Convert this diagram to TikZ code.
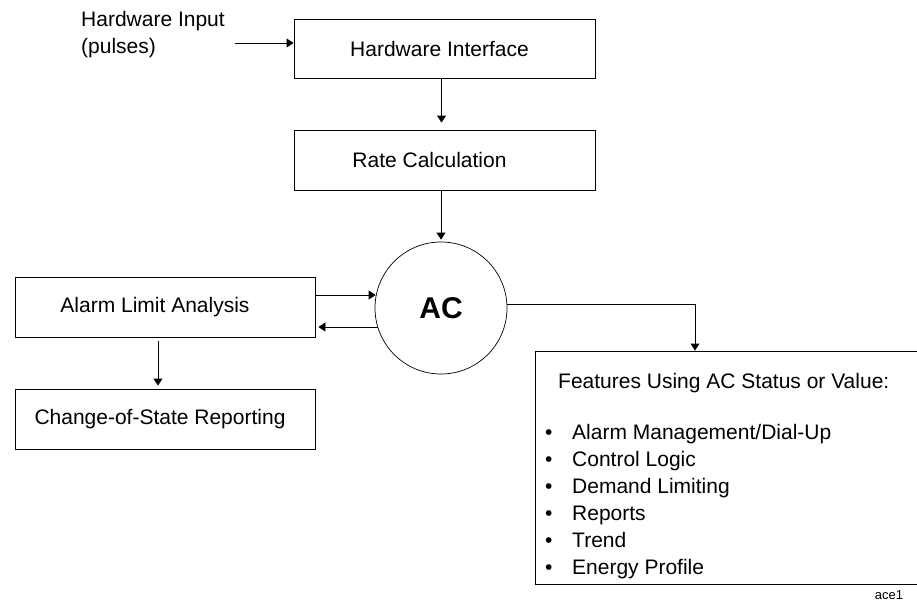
\documentclass[tikz,border=0pt]{standalone}
\usepackage{fontspec}
\setmainfont{Liberation Sans}
\usetikzlibrary{arrows.meta}

\begin{document}
\begin{tikzpicture}[x=1pt, y=-1pt,
    box/.style={draw, line width=0.9pt, inner sep=0pt, align=center,
                font=\fontsize{21}{27}\selectfont},
    txt/.style={inner sep=0pt, align=left, font=\fontsize{21}{27}\selectfont},
    arr/.style={-{Triangle[width=9pt,length=7pt]}, line width=0.9pt}]
    \useasboundingbox (0,0) rectangle (917,602);
    \node[txt, anchor=west] (hwin) at (81,35) {Hardware Input\\(pulses)};
    \coordinate (inp) at (235,43);
    \node[box, minimum width=301pt, minimum height=59pt] (hi) at (444.5,48.5) {Hardware Interface\hspace*{10pt}};
    \node[box, minimum width=301pt, minimum height=60pt] (rc) at (444.5,160) {Rate Calculation\hspace*{30pt}};
    \node[draw, circle, line width=0.7pt, minimum size=132pt, inner sep=0pt,
          font=\fontsize{30}{30}\selectfont\bfseries] (ac) at (441,308) {AC};
    \node[box, minimum width=300pt, minimum height=60pt] (al) at (165,307) {Alarm Limit Analysis\hspace*{20pt}};
    \node[box, minimum width=300pt, minimum height=60pt] (cs) at (165,419) {Change-of-State Reporting\hspace*{10pt}};
    \node[box, minimum width=382pt, minimum height=233pt] (fe) at (726,467.5) {};
    \node[txt, anchor=west] (fehead) at (558,383) {Features Using AC Status or Value:};
    \node[txt, anchor=north west] (felist) at (545,424)
      {\makebox[27pt][l]{\textbullet}Alarm Management/Dial-Up\\
       \makebox[27pt][l]{\textbullet}Control Logic\\
       \makebox[27pt][l]{\textbullet}Demand Limiting\\
       \makebox[27pt][l]{\textbullet}Reports\\
       \makebox[27pt][l]{\textbullet}Trend\\
       \makebox[27pt][l]{\textbullet}Energy Profile};
    \node[inner sep=0pt, font=\fontsize{13}{13}\selectfont] (tag) at (889,595) {ace1};
    \draw[arr] (inp) -- (inp -| hi.west);
    \draw[arr, shorten >=7pt] ([xshift=-3pt]hi.south) -- ([xshift=-3pt]rc.north);
    \draw[arr, shorten >=2pt] (rc.south -| ac.north) -- (ac.north);
    \draw[arr] ([yshift=12pt]al.east) -- ([yshift=12pt,xshift=1pt]al.east -| ac.west);
    \draw[arr] ([yshift=-20pt,xshift=3pt]al.east -| ac.west) -- ([yshift=-20pt,xshift=3pt]al.east);
    \draw[arr, shorten <=4pt, shorten >=3pt] ([xshift=-7pt]al.south) -- ([xshift=-7pt]cs.north);
    \draw[arr] ([yshift=4pt]ac.east) -| ([xshift=-31pt]fe.north);
\end{tikzpicture}
\end{document}
